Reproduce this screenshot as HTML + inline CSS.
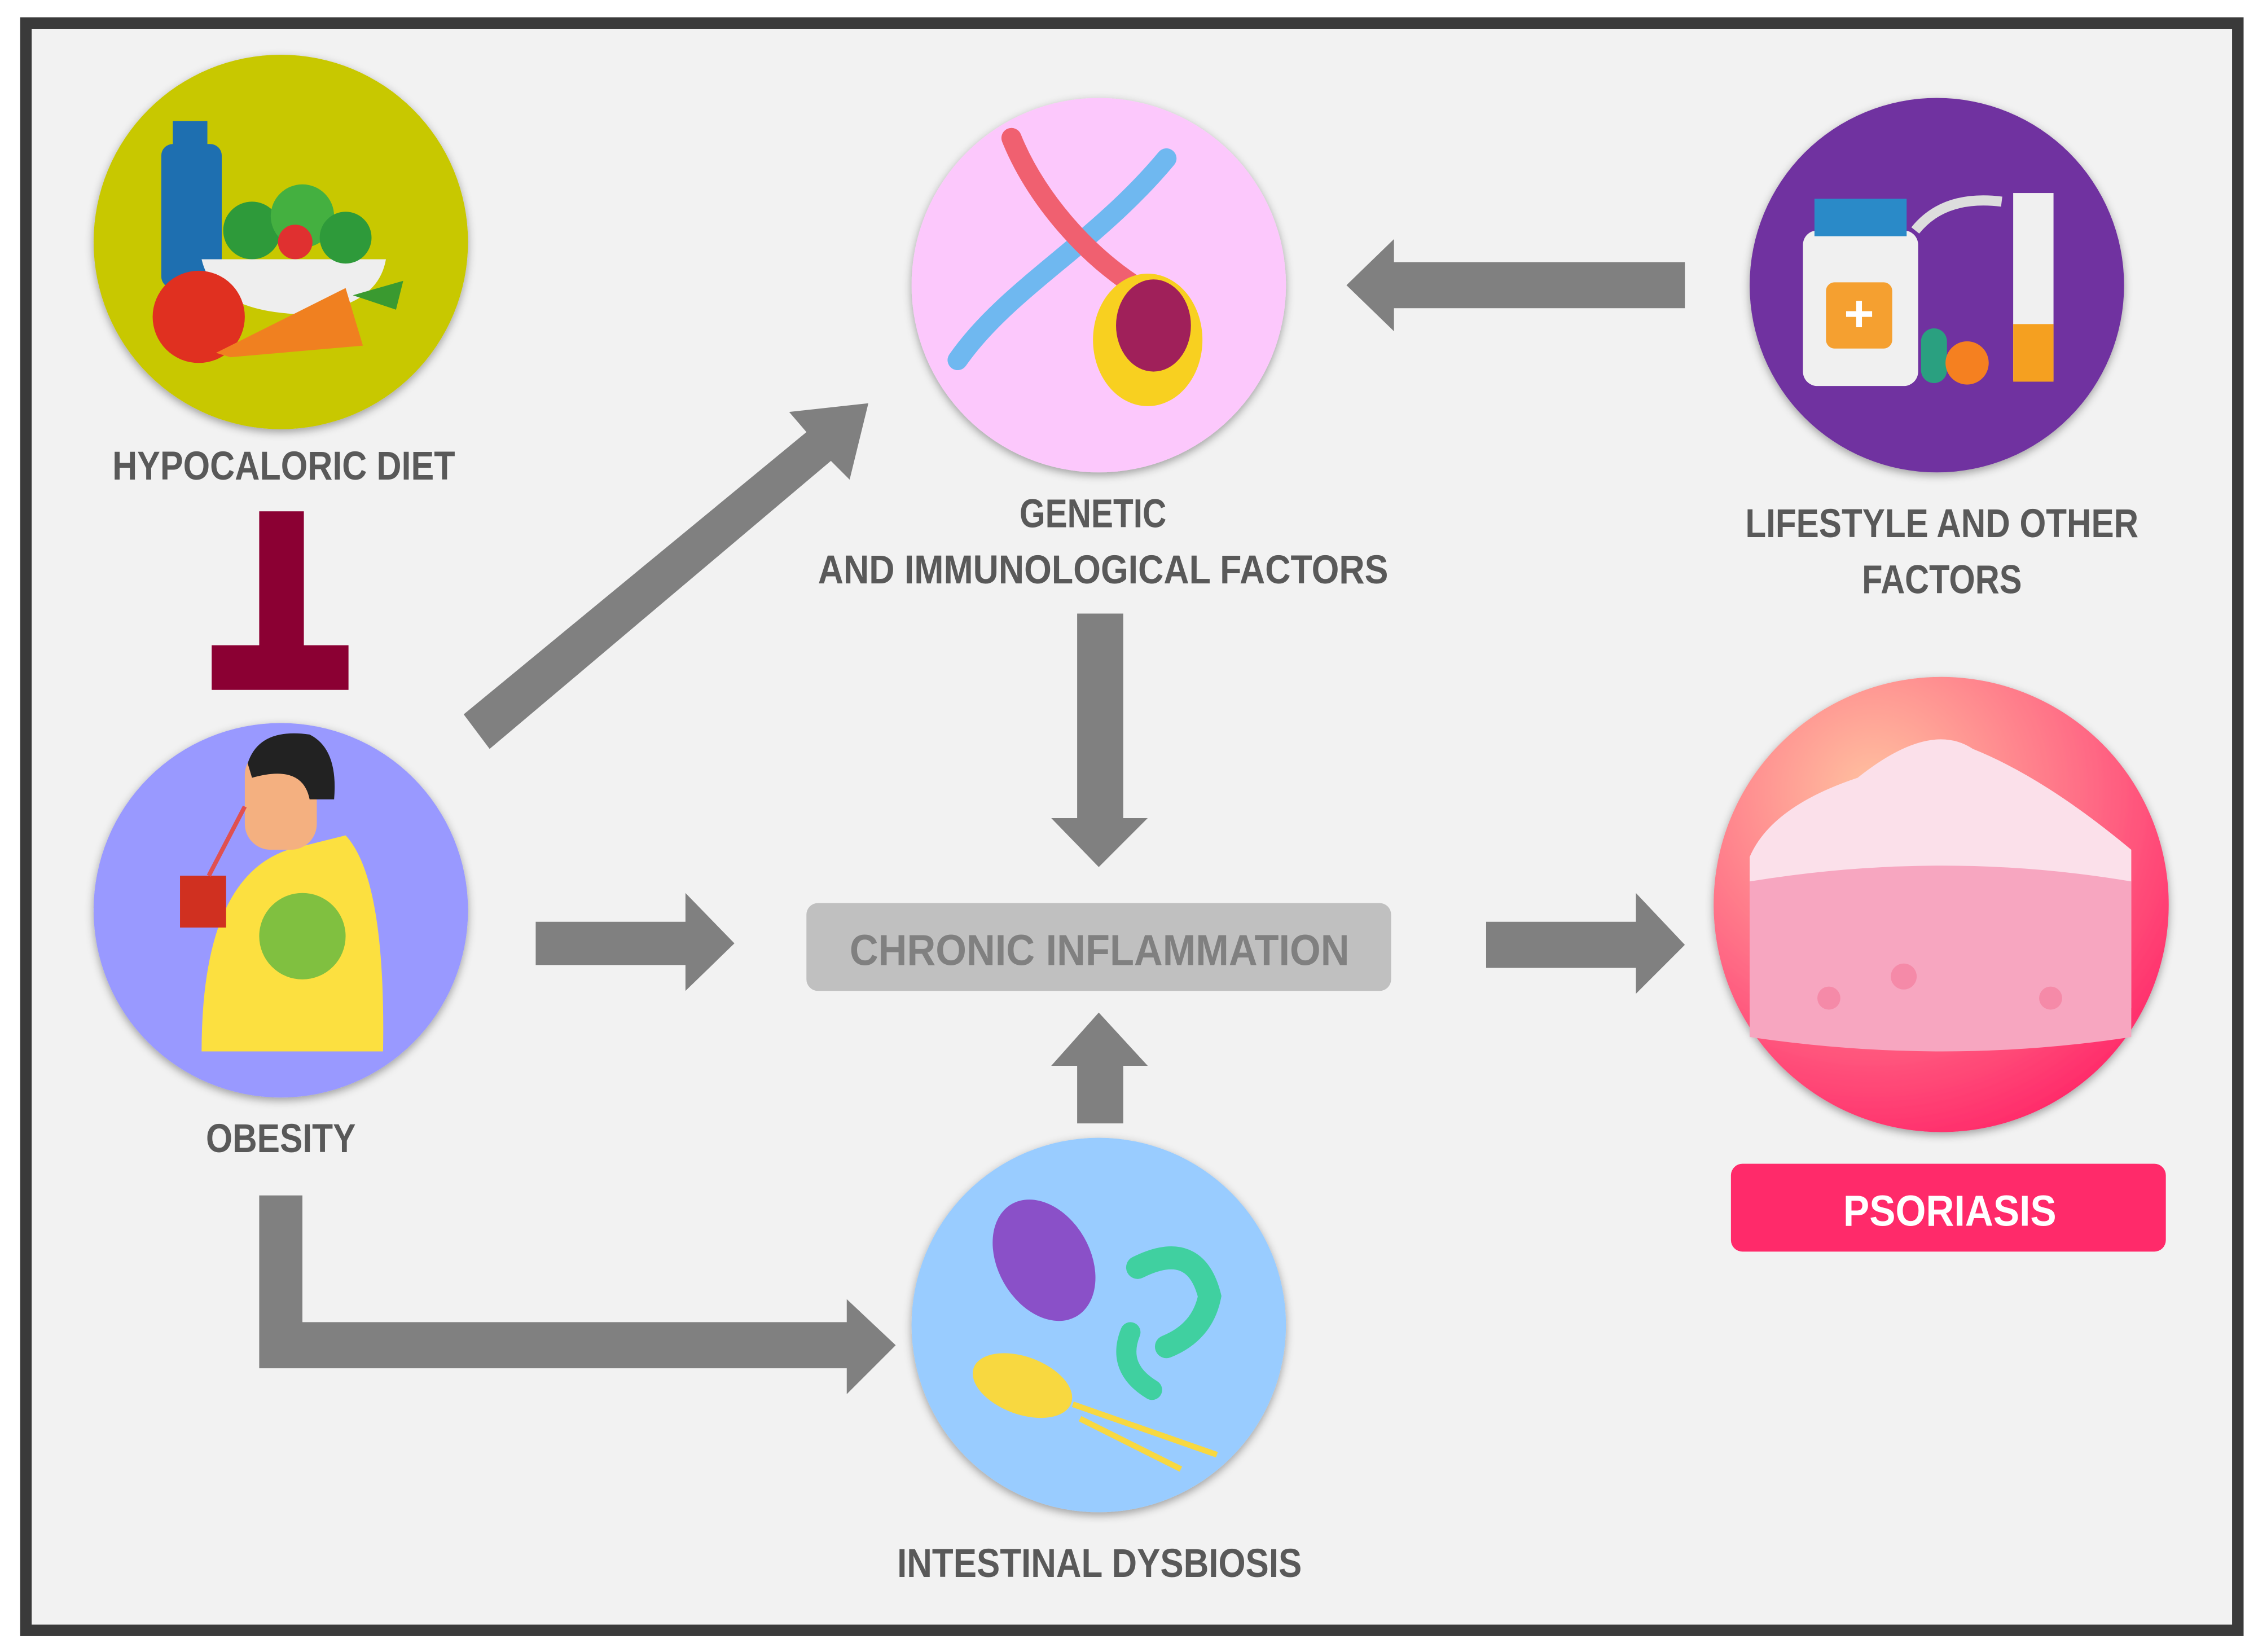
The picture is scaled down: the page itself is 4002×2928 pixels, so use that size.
<!DOCTYPE html>
<html><head><meta charset="utf-8"><style>html,body{margin:0;padding:0;background:#f2f2f2}svg{display:block}</style></head><body>
<svg width="4002" height="2928" viewBox="0 0 1568 1147" preserveAspectRatio="none" xmlns="http://www.w3.org/2000/svg">
<defs>
<filter id="sh" x="-20%" y="-20%" width="140%" height="140%"><feDropShadow dx="0" dy="2" stdDeviation="3" flood-color="#000" flood-opacity="0.35"/></filter>
<radialGradient id="pg" cx="35%" cy="25%" r="80%"><stop offset="0" stop-color="#ffc2a0"/><stop offset="0.6" stop-color="#ff6a85"/><stop offset="1" stop-color="#ff2a6a"/></radialGradient>
</defs>
<rect x="0" y="0" width="1568" height="1147" fill="#fff"/>
<rect x="18" y="16" width="1536" height="1116" fill="#f2f2f2" stroke="#3a3a3a" stroke-width="8"/>

<g fill="#808080">
<!-- lifestyle -> genetic -->
<polygon points="1170,182 968,182 968,166 935,198 968,230 968,214 1170,214"/>
<!-- diagonal -->
<polygon points="322,496 560,300 548,286 603,280 590,333 577,320 340,520"/>
<!-- genetic down -->
<polygon points="748,426 780,426 780,568 797,568 763,602 730,568 748,568"/>
<!-- obesity -> chronic -->
<polygon points="372,640 476,640 476,620 510,655 476,688 476,670 372,670"/>
<!-- dysbiosis up -->
<polygon points="748,780 780,780 780,740 797,740 763,703 730,740 748,740"/>
<!-- chronic -> psoriasis -->
<polygon points="1032,640 1136,640 1136,620 1170,656 1136,690 1136,672 1032,672"/>
<!-- elbow -->
<polygon points="180,830 210,830 210,918 588,918 588,902 622,934 588,968 588,950 180,950"/>
</g>
<!-- inhibition -->
<g fill="#8b0033"><rect x="180" y="355" width="31" height="95"/><rect x="147" y="448" width="95" height="31"/></g>

<!-- circles -->
<g filter="url(#sh)">
<circle cx="195" cy="168" r="130" fill="#c8c800"/>
<circle cx="763" cy="198" r="130" fill="#fcc8fc"/>
<circle cx="1345" cy="198" r="130" fill="#7030a0"/>
<circle cx="195" cy="632" r="130" fill="#9999ff"/>
<circle cx="1348" cy="628" r="158" fill="url(#pg)"/>
<circle cx="763" cy="920" r="130" fill="#99ccff"/>
</g>

<!-- diet icon -->
<rect x="112" y="100" width="42" height="100" rx="8" fill="#1e6fb0"/><rect x="120" y="84" width="24" height="18" fill="#1e6fb0"/>
<path d="M140 180 H268 Q262 215 205 218 Q148 215 140 180Z" fill="#eeeeee"/>
<circle cx="175" cy="160" r="20" fill="#2e9a3a"/><circle cx="210" cy="150" r="22" fill="#44b040"/><circle cx="240" cy="165" r="18" fill="#2e9a3a"/><circle cx="205" cy="168" r="12" fill="#e03030"/>
<circle cx="138" cy="220" r="32" fill="#e03020"/>
<polygon points="150,245 240,200 252,240 160,248" fill="#f08020"/><path d="M245 205 l35 -10 l-5 20z" fill="#3a9a30"/>
<!-- DNA -->
<path d="M665 250 C700 200 760 170 810 110" stroke="#6fb8f0" stroke-width="14" fill="none" stroke-linecap="round"/>
<path d="M690 110 C720 150 770 180 810 190" stroke="#f06070" stroke-width="14" fill="none" stroke-linecap="round" transform="rotate(15 750 150)"/>
<ellipse cx="797" cy="236" rx="38" ry="46" fill="#f8d020"/><ellipse cx="801" cy="226" rx="26" ry="32" fill="#a0205a"/>
<!-- lifestyle icon -->
<rect x="1252" y="160" width="80" height="108" rx="10" fill="#f0f0f0"/><rect x="1260" y="138" width="64" height="26" fill="#2a8ac8"/>
<rect x="1268" y="196" width="46" height="46" rx="6" fill="#f5a030"/><text x="1291" y="230" font-family="Liberation Sans,sans-serif" font-size="36" font-weight="bold" fill="#fff" text-anchor="middle">+</text>
<rect x="1334" y="228" width="18" height="38" rx="9" fill="#2aa080"/><circle cx="1366" cy="252" r="15" fill="#f58020"/>
<rect x="1398" y="134" width="28" height="130" fill="#f0f0f0"/><rect x="1398" y="225" width="28" height="40" fill="#f5a020"/>
<path d="M1330 160 q20 -25 60 -20" stroke="#ddd" stroke-width="7" fill="none"/>
<!-- obesity icon -->
<path d="M140 730 Q140 610 200 590 L240 580 Q268 610 266 730Z" fill="#fce040"/>
<rect x="170" y="520" width="50" height="70" rx="18" fill="#f4b080"/><path d="M172 530 Q180 505 215 510 Q235 520 232 555 L215 555 Q210 530 175 540Z" fill="#222"/>
<rect x="125" y="608" width="32" height="36" fill="#d03020"/><path d="M145 608 L170 560" stroke="#e05050" stroke-width="3"/>
<ellipse cx="210" cy="650" rx="30" ry="30" fill="#80c040"/>
<!-- psoriasis icon -->
<path d="M1215 595 Q1230 560 1290 540 Q1340 500 1370 520 Q1420 540 1480 590 L1480 700 Q1350 720 1215 700Z" fill="#fbe0ea"/>
<path d="M1215 612 Q1350 590 1480 612 L1480 720 Q1350 740 1215 720Z" fill="#f7a6c0"/>
<circle cx="1270" cy="693" r="8" fill="#f58aa8"/><circle cx="1322" cy="678" r="9" fill="#f58aa8"/><circle cx="1424" cy="693" r="8" fill="#f58aa8"/>
<!-- bacteria -->
<ellipse cx="725" cy="875" rx="32" ry="45" fill="#8a50c8" transform="rotate(-30 725 875)"/>
<path d="M790 880 q40 -20 50 20 q-5 25 -30 35" stroke="#40d0a0" stroke-width="16" fill="none" stroke-linecap="round"/>
<path d="M785 925 q-10 25 15 40" stroke="#40d0a0" stroke-width="14" fill="none" stroke-linecap="round"/>
<ellipse cx="710" cy="962" rx="36" ry="20" fill="#f8d840" transform="rotate(20 710 962)"/>
<path d="M745 975 L845 1010 M750 985 L820 1020" stroke="#f8d840" stroke-width="4"/>

<!-- boxes -->
<rect x="560" y="627" width="406" height="61" rx="8" fill="#c0c0c0"/>
<rect x="1202" y="808" width="302" height="61" rx="8" fill="#ff2a6a"/>

<g font-family="Liberation Sans Narrow,Liberation Sans,sans-serif" font-weight="bold" font-size="28" fill="#595959" lengthAdjust="spacingAndGlyphs">
<text x="78" y="333" textLength="238" lengthAdjust="spacingAndGlyphs">HYPOCALORIC DIET</text>
<text x="708" y="366" textLength="102" lengthAdjust="spacingAndGlyphs">GENETIC</text>
<text x="568" y="405" textLength="396" lengthAdjust="spacingAndGlyphs">AND IMMUNOLOGICAL FACTORS</text>
<text x="1212" y="373" textLength="273" lengthAdjust="spacingAndGlyphs">LIFESTYLE AND OTHER</text>
<text x="1293" y="412" textLength="111" lengthAdjust="spacingAndGlyphs">FACTORS</text>
<text x="143" y="800" textLength="104" lengthAdjust="spacingAndGlyphs">OBESITY</text>
<text x="623" y="1095" textLength="281" lengthAdjust="spacingAndGlyphs">INTESTINAL DYSBIOSIS</text>
<text x="590" y="670" textLength="347" lengthAdjust="spacingAndGlyphs" fill="#808080" font-size="30">CHRONIC INFLAMMATION</text>
<text x="1280" y="851" textLength="148" lengthAdjust="spacingAndGlyphs" fill="#fff" font-size="30">PSORIASIS</text>
</g>
</svg>
</body></html>
